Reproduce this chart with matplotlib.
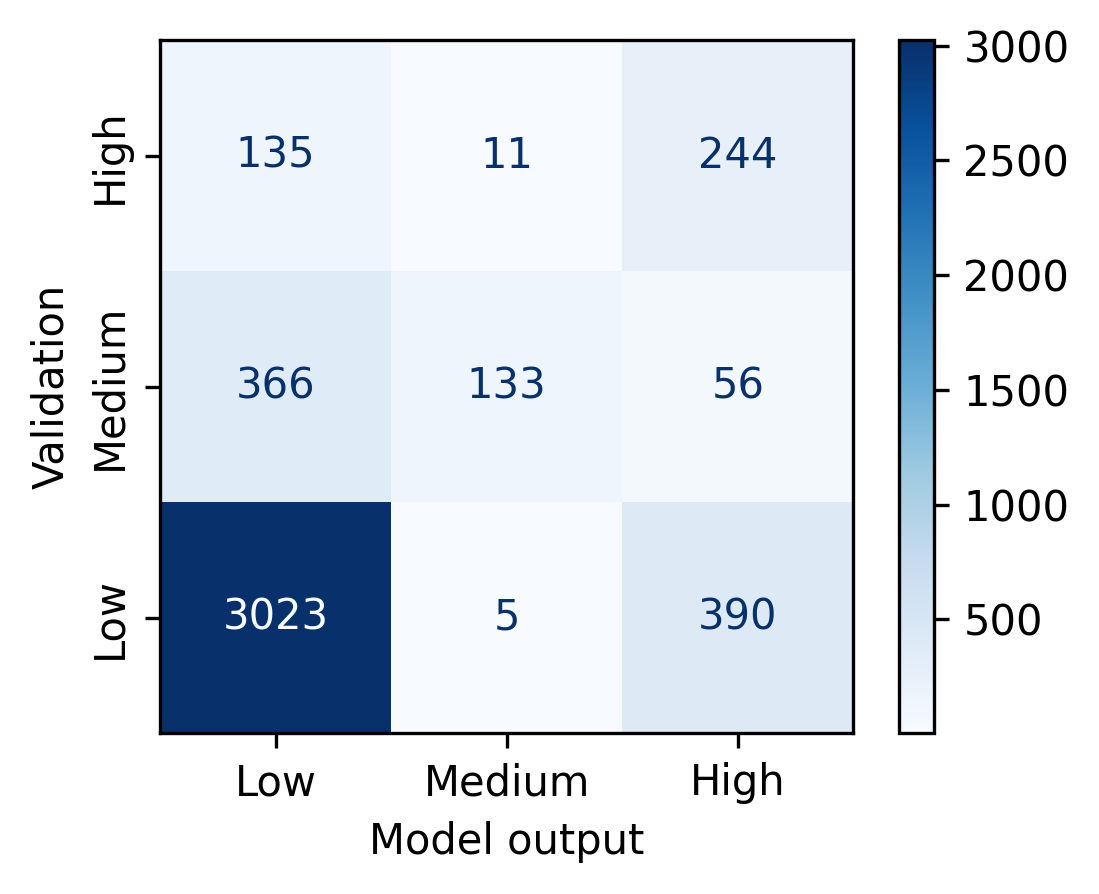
import numpy as np
import matplotlib.pyplot as plt

labels = ["Low", "Medium", "High"]
# rows = validation (Low, Medium, High), cols = model output
counts = np.array([
    [3023, 5, 390],
    [366, 133, 56],
    [135, 11, 244],
])

fig = plt.figure(figsize=(1099 / 300, 894 / 300), dpi=300)
ax = fig.add_axes([0.1456, 0.180, 0.631, 0.775])
cax = fig.add_axes([0.818, 0.180, 0.032, 0.775])

cmap = plt.cm.Blues
im = ax.imshow(counts, cmap=cmap, origin="lower", aspect="auto")
cb = fig.colorbar(im, cax=cax)
cb.set_ticks([500, 1000, 1500, 2000, 2500, 3000])

thresh = (counts.max() + counts.min()) / 2.0
for i in range(3):
    for j in range(3):
        c = cmap(0.0) if counts[i, j] > thresh else cmap(1.0)
        ax.text(j, i, str(counts[i, j]), ha="center", va="center", color=c, fontsize=10)

ax.set_xticks(range(3))
ax.set_xticklabels(labels)
ax.set_yticks(range(3))
ax.set_yticklabels(labels, rotation=90, va="center")
ax.set_xlabel("Model output")
ax.set_ylabel("Validation")

fig.savefig("out.png", dpi=300)
